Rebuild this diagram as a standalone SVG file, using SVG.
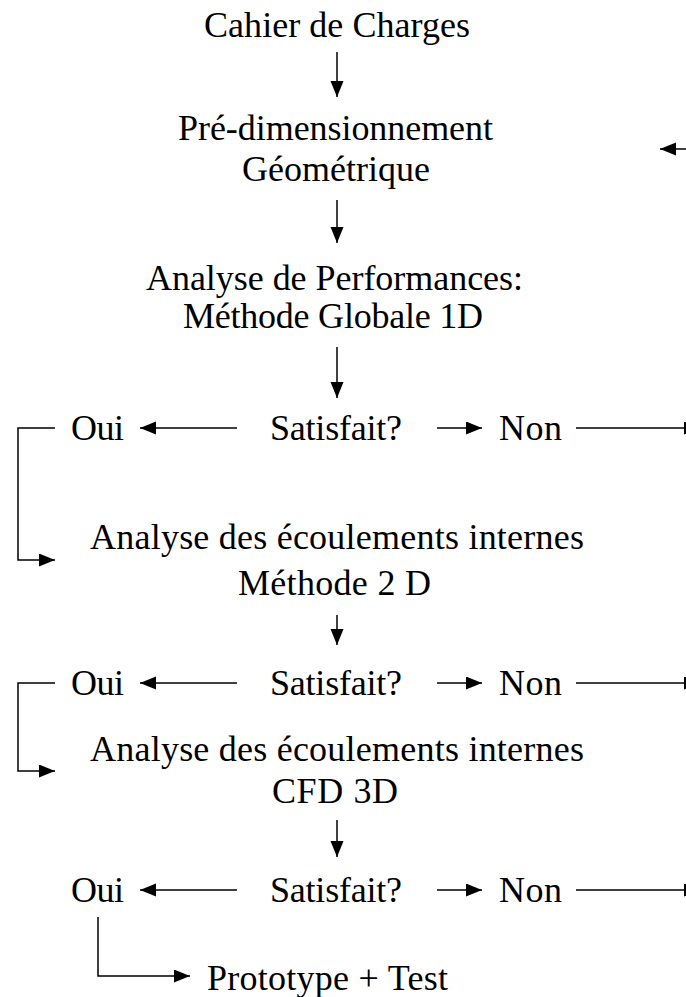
<svg xmlns="http://www.w3.org/2000/svg" width="686" height="997" viewBox="0 0 686 997">
<style>
text{font-family:"Liberation Serif","Times New Roman",serif;font-size:36px;fill:#000}
.c{fill:none;stroke:#000;stroke-width:1.5}
</style>
<defs>
<marker id="ah" markerUnits="userSpaceOnUse" markerWidth="17" markerHeight="14" refX="16" refY="6.5" orient="auto">
<path d="M0,0 L16,6.5 L0,13 Z" fill="#000"/>
</marker>
</defs>
<rect width="686" height="997" fill="#fff"/>
<g id="n1"><text x="204" y="37" textLength="266">Cahier de Charges</text></g>
<g id="n2"><text x="178" y="140" textLength="315">Pré-dimensionnement</text><text x="242" y="181" textLength="188">Géométrique</text></g>
<g id="n3"><text x="146" y="290" textLength="377">Analyse de Performances:</text><text x="183" y="328" textLength="300">Méthode Globale 1D</text></g>
<g id="r1"><text x="71" y="440" textLength="53">Oui</text><text x="270" y="440" textLength="132">Satisfait?</text><text x="499" y="440" textLength="63">Non</text></g>
<g id="n4"><text x="90" y="549" textLength="494">Analyse des écoulements internes</text><text x="238" y="595" textLength="193">Méthode 2 D</text></g>
<g id="r2"><text x="71" y="695" textLength="53">Oui</text><text x="270" y="695" textLength="132">Satisfait?</text><text x="499" y="695" textLength="63">Non</text></g>
<g id="n5"><text x="90" y="761" textLength="494">Analyse des écoulements internes</text><text x="272" y="803" textLength="126">CFD 3D</text></g>
<g id="r3"><text x="71" y="902" textLength="53">Oui</text><text x="270" y="902" textLength="132">Satisfait?</text><text x="499" y="902" textLength="63">Non</text></g>
<g id="n6"><text x="207" y="990" textLength="241">Prototype + Test</text></g>
<g id="connectors" class="c">
<line class="c" x1="337" y1="52" x2="337" y2="97" marker-end="url(#ah)"/>
<line class="c" x1="337" y1="200" x2="337" y2="243" marker-end="url(#ah)"/>
<line class="c" x1="337" y1="347" x2="337" y2="398" marker-end="url(#ah)"/>
<line class="c" x1="337" y1="615" x2="337" y2="645" marker-end="url(#ah)"/>
<line class="c" x1="337" y1="820" x2="337" y2="857" marker-end="url(#ah)"/>
<line class="c" x1="700" y1="149" x2="660" y2="149" marker-end="url(#ah)"/>
<line class="c" x1="237" y1="428" x2="140" y2="428" marker-end="url(#ah)"/>
<line class="c" x1="437" y1="428" x2="482" y2="428" marker-end="url(#ah)"/>
<line class="c" x1="576" y1="428" x2="700" y2="428" marker-end="url(#ah)"/>
<polyline class="c" points="55,428 18,428 18,560 55,560" marker-end="url(#ah)"/>
<line class="c" x1="237" y1="683" x2="140" y2="683" marker-end="url(#ah)"/>
<line class="c" x1="437" y1="683" x2="482" y2="683" marker-end="url(#ah)"/>
<line class="c" x1="576" y1="683" x2="700" y2="683" marker-end="url(#ah)"/>
<polyline class="c" points="55,683 18,683 18,771 55,771" marker-end="url(#ah)"/>
<line class="c" x1="237" y1="890" x2="140" y2="890" marker-end="url(#ah)"/>
<line class="c" x1="437" y1="890" x2="482" y2="890" marker-end="url(#ah)"/>
<line class="c" x1="576" y1="890" x2="700" y2="890" marker-end="url(#ah)"/>
<polyline class="c" points="98,917 98,976 190,976" marker-end="url(#ah)"/>
</g>
</svg>
